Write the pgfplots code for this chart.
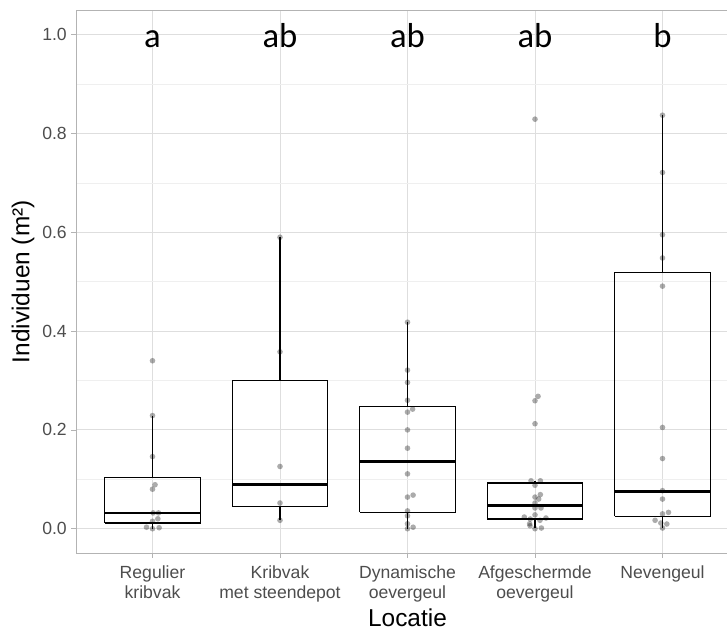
\documentclass[border=0pt]{standalone}
\usepackage{pgfplots}
\pgfplotsset{compat=1.18}
\usepackage{fontspec}
\setmainfont{Liberation Sans}
\newfontfamily\letterfont{Carlito}

\definecolor{gridmajor}{HTML}{DEDEDE}
\definecolor{gridminor}{HTML}{EFEFEF}
\definecolor{panelborder}{HTML}{B3B3B3}
\definecolor{ticktext}{HTML}{4D4D4D}

% individual observations: x = location index (with jitter), y = individuals per m2
\pgfplotstableread{
x      y
1.000  0.340
1.000  0.229
1.000  0.146
1.020  0.089
1.000  0.080
1.005  0.032
1.047  0.032
1.042  0.020
1.000  0.015
0.953  0.003
1.000  0.000
1.052  0.002
2.000  0.590
2.000  0.358
2.000  0.126
2.000  0.052
2.000  0.017
3.000  0.418
3.000  0.321
3.000  0.296
3.000  0.260
3.040  0.242
3.000  0.236
3.000  0.200
3.000  0.163
3.000  0.111
3.044  0.068
3.000  0.064
3.000  0.036
3.000  0.026
3.000  0.010
3.044  0.003
3.000  0.000
4.000  0.829
4.024  0.268
4.000  0.259
4.000  0.2125
3.969  0.097
4.042  0.097
4.000  0.088
4.042  0.069
4.000  0.064
4.029  0.060
4.000  0.052
4.000  0.042
4.047  0.042
4.000  0.028
3.916  0.0236
4.086  0.0216
3.963  0.0196
4.039  0.017
3.958  0.010
3.961  0.006
4.050  0.0014
4.000  0.000
5.000  0.837
5.000  0.721
5.000  0.595
5.000  0.548
5.000  0.491
5.000  0.205
5.000  0.142
5.000  0.077
5.000  0.060
5.047  0.033
5.000  0.030
4.942  0.017
4.987  0.0115
5.034  0.0095
5.000  0.0014
}\obsdata

\pgfplotsset{
  boxline/.style={black, line width=1.0pt, line join=miter, mark=none},
  medianline/.style={black, line width=2.0pt, mark=none},
}

\begin{document}
\begin{tikzpicture}
\begin{axis}[
  at={(0,0)}, anchor=south west,
  scale only axis, width=497.25pt, height=407.55pt,
  xmin=0.4, xmax=5.6, ymin=-0.05, ymax=1.05,
  xtick={1,2,3,4,5},
  xticklabels={{Regulier\\kribvak},{Kribvak\\met steendepot},{Dynamische\\oevergeul},{Afgeschermde\\oevergeul},{Nevengeul}},
  xticklabel style={align=center, text=ticktext, font=\fontsize{13.2}{15}\selectfont, anchor=north, yshift=-2pt},
  ytick={0,0.2,0.4,0.6,0.8,1.0},
  minor ytick={0.1,0.3,0.5,0.7,0.9},
  /pgf/number format/assume math mode=true,
  yticklabel={\pgfmathprintnumber[fixed,fixed zerofill,precision=1]{\tick}},
  yticklabel style={text=ticktext, font=\fontsize{13.2}{15}\selectfont},
  xtick pos=bottom, ytick pos=left,
  tick align=outside,
  major tick length=3.4pt, minor tick length=0pt,
  tick style={panelborder, line width=0.6pt},
  axis line style={panelborder, line width=0.6pt},
  grid=both,
  major grid style={gridmajor, line width=0.7pt},
  minor grid style={gridminor, line width=0.5pt},
  xlabel={Locatie},
  ylabel={Individuen (m²)},
  xlabel style={font=\fontsize{18.3}{20}\selectfont, at={(axis description cs:0.5,0)}, anchor=base, yshift=-54.75pt},
  ylabel style={font=\fontsize{18.3}{20}\selectfont, yshift=-1pt},
]
% Regulier kribvak
\addplot[boxline] coordinates {(1,0.0) (1,0.0115)};
\addplot[boxline] coordinates {(1,0.104) (1,0.229)};
\addplot[boxline] coordinates {(0.625,0.0115) (1.375,0.0115) (1.375,0.104) (0.625,0.104) (0.625,0.0115)};
\addplot[medianline] coordinates {(0.625,0.032) (1.375,0.032)};
% Kribvak met steendepot
\addplot[boxline] coordinates {(2,0.017) (2,0.0445)};
\addplot[boxline] coordinates {(2,0.300) (2,0.590)};
\addplot[boxline] coordinates {(1.625,0.0445) (2.375,0.0445) (2.375,0.300) (1.625,0.300) (1.625,0.0445)};
\addplot[medianline] coordinates {(1.625,0.089) (2.375,0.089)};
% Dynamische oevergeul
\addplot[boxline] coordinates {(3,0.0) (3,0.033)};
\addplot[boxline] coordinates {(3,0.247) (3,0.418)};
\addplot[boxline] coordinates {(2.625,0.033) (3.375,0.033) (3.375,0.247) (2.625,0.247) (2.625,0.033)};
\addplot[medianline] coordinates {(2.625,0.1356) (3.375,0.1356)};
% Afgeschermde oevergeul
\addplot[boxline] coordinates {(4,0.0014) (4,0.0196)};
\addplot[boxline] coordinates {(4,0.0925) (4,0.097)};
\addplot[boxline] coordinates {(3.625,0.0196) (4.375,0.0196) (4.375,0.0925) (3.625,0.0925) (3.625,0.0196)};
\addplot[medianline] coordinates {(3.625,0.047) (4.375,0.047)};
% Nevengeul
\addplot[boxline] coordinates {(5,0.0014) (5,0.025)};
\addplot[boxline] coordinates {(5,0.519) (5,0.837)};
\addplot[boxline] coordinates {(4.625,0.025) (5.375,0.025) (5.375,0.519) (4.625,0.519) (4.625,0.025)};
\addplot[medianline] coordinates {(4.625,0.075) (5.375,0.075)};

% jittered observations
\addplot[only marks, mark=*, mark size=2.1pt,
  mark options={draw opacity=0, fill=black, fill opacity=0.33}]
  table[x=x, y=y] {\obsdata};

% significance letters
\node[anchor=base, font=\letterfont\fontsize{26}{26}\selectfont] at (axis cs:1,0.974) {a};
\node[anchor=base, font=\letterfont\fontsize{26}{26}\selectfont] at (axis cs:2,0.974) {ab};
\node[anchor=base, font=\letterfont\fontsize{26}{26}\selectfont] at (axis cs:3,0.974) {ab};
\node[anchor=base, font=\letterfont\fontsize{26}{26}\selectfont] at (axis cs:4,0.974) {ab};
\node[anchor=base, font=\letterfont\fontsize{26}{26}\selectfont] at (axis cs:5,0.974) {b};
\end{axis}
\pgfresetboundingbox
\path[use as bounding box] (-57pt,-58.5pt) rectangle (488.25pt,415.05pt);
\end{tikzpicture}
\end{document}
